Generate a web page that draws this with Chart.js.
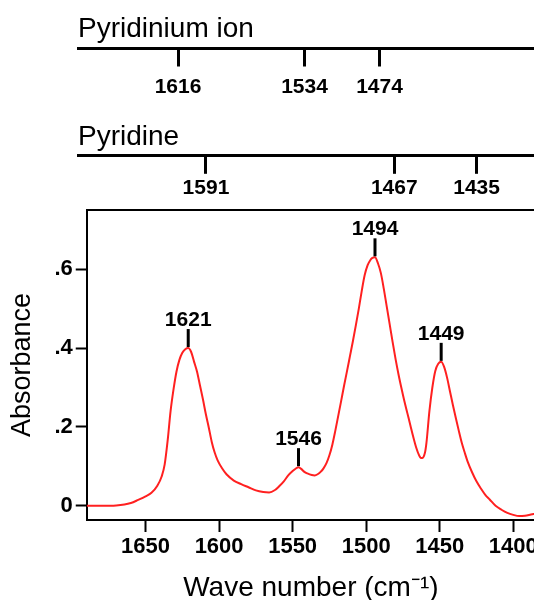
<!DOCTYPE html>
<html>
<head>
<meta charset="utf-8">
<script src="https://cdn.jsdelivr.net/npm/chart.js@4.4.0/dist/chart.umd.min.js"></script>
<style>
  html, body { margin: 0; padding: 0; background: #fff; overflow: hidden; width: 534px; height: 600px; }
  canvas { position: absolute; left: 0; }
  #ion { top: 0; }
  #pyr { top: 100px; }
  #main { top: 190px; }
</style>
</head>
<body>
<canvas id="ion" width="545" height="100"></canvas>
<canvas id="pyr" width="545" height="104"></canvas>
<canvas id="main" width="545" height="428"></canvas>
<script>
// IR spectrum
const waveNumbers = [1690, 1680, 1670, 1660, 1655, 1650, 1646, 1642, 1639, 1637, 1635, 1633, 1631, 1629, 1627,
  1625, 1623, 1621, 1619, 1617, 1615, 1613, 1611, 1609, 1607, 1605, 1603, 1601, 1598, 1595, 1590, 1585, 1580,
  1575, 1570, 1566, 1562, 1559, 1556, 1553, 1550, 1548, 1546, 1544, 1542, 1540, 1537, 1535, 1533, 1531, 1529,
  1527, 1525, 1523, 1521, 1519, 1517, 1515, 1513, 1511, 1509, 1507, 1505, 1503, 1501, 1499, 1497, 1496, 1494,
  1492, 1490, 1488, 1486, 1484, 1482, 1480, 1478, 1476, 1474, 1472, 1470, 1468, 1466, 1464, 1463, 1462, 1460,
  1459, 1457, 1455, 1453, 1451, 1449, 1447, 1445, 1443, 1441, 1439, 1437, 1435, 1433, 1431, 1428, 1425, 1422,
  1419, 1416, 1412, 1408, 1404, 1400, 1396, 1392, 1388, 1384];
const absorbance = [0, 0, 0.001, 0.007, 0.015, 0.024, 0.033, 0.051, 0.075, 0.105, 0.165, 0.24, 0.295, 0.34, 0.37,
  0.388, 0.397, 0.40, 0.39, 0.365, 0.34, 0.305, 0.27, 0.232, 0.198, 0.162, 0.135, 0.115, 0.095, 0.08, 0.064, 0.055, 0.047,
  0.039, 0.035, 0.034, 0.040, 0.050, 0.062, 0.077, 0.088, 0.094, 0.098, 0.093, 0.086, 0.082, 0.078, 0.077, 0.080, 0.086, 0.095,
  0.108, 0.128, 0.155, 0.19, 0.228, 0.266, 0.305, 0.342, 0.38, 0.418, 0.458, 0.50, 0.545, 0.585, 0.61, 0.624, 0.628, 0.63,
  0.615, 0.59, 0.55, 0.505, 0.46, 0.415, 0.372, 0.333, 0.298, 0.265, 0.235, 0.205, 0.175, 0.148, 0.128, 0.122, 0.121, 0.135,
  0.16, 0.24, 0.30, 0.342, 0.36, 0.365, 0.352, 0.325, 0.29, 0.255, 0.222, 0.19, 0.16, 0.135, 0.112, 0.085, 0.062, 0.044,
  0.028, 0.016, 0.0, -0.01, -0.018, -0.023, -0.026, -0.025, -0.022, -0.019];

const xTicks = [1650, 1600, 1550, 1500, 1450, 1400];
const yTicks = [0, 0.2, 0.4, 0.6];
const yTickLabels = ['0', '.2', '.4', '.6'];
const peaks = [1621, 1546, 1494, 1449];

// reference bands (label, place along the bar)
const ionBands = ['1616', '1534', '1474'];
const ionBandPos = [1628, 1542, 1491];
const pyrBands = ['1591', '1467', '1435'];
const pyrBandPos = [1609, 1481, 1425];

const FONT = "'Liberation Sans', Arial, Helvetica, sans-serif";
Chart.defaults.font.family = FONT;
Chart.defaults.color = '#000';

function bandChart(id, title, pos, labels, titlePad, tickPad, padBottom) {
    new Chart(document.getElementById(id), {
        type: 'line',
        data: { datasets: [] },
        options: {
            responsive: false,
            animation: false,
            devicePixelRatio: 1,
            layout: { padding: { left: 78, right: 0, top: 0, bottom: padBottom } },
            plugins: {
                legend: { display: false },
                tooltip: { enabled: false },
                title: {
                    display: true,
                    text: title,
                    align: 'start',
                    color: '#000',
                    font: { size: 28, weight: 'normal' },
                    padding: { top: titlePad, bottom: 0 }
                }
            },
            scales: {
                x: {
                    type: 'linear',
                    position: 'bottom',
                    reverse: true,
                    min: 1378.5,
                    max: 1696,
                    afterBuildTicks: s => { s.ticks = pos.map(v => ({ value: v })); },
                    ticks: {
                        autoSkip: false,
                        maxRotation: 0,
                        padding: tickPad,
                        color: '#000',
                        font: { size: 21, weight: 'bold' },
                        callback: (v, i) => labels[i]
                    },
                    grid: { drawOnChartArea: false, tickLength: 18, tickWidth: 3, color: '#000' },
                    border: { display: true, width: 3, color: '#000' }
                },
                y: { display: false }
            }
        }
    });
}

bandChart('ion', 'Pyridinium ion', ionBandPos, ionBands, 12, 8, 3);
bandChart('pyr', 'Pyridine', pyrBandPos, pyrBands, 20, 2, 1);

const peakMarks = {
    id: 'peakMarks',
    afterDatasetsDraw(chart) {
        const { ctx, scales: { x, y } } = chart;
        ctx.save();
        ctx.strokeStyle = '#000';
        ctx.fillStyle = '#000';
        ctx.lineWidth = 3;
        ctx.font = 'bold 21px ' + FONT;
        ctx.textAlign = 'center';
        ctx.textBaseline = 'alphabetic';
        peaks.forEach(p => {
            const a = absorbance[waveNumbers.indexOf(p)];
            const px = x.getPixelForValue(p);
            const py = y.getPixelForValue(a) - 1;
            ctx.beginPath();
            ctx.moveTo(px, py);
            ctx.lineTo(px, py - 18);
            ctx.stroke();
            ctx.fillText(String(p), px, py - 21);
        });
        ctx.restore();
    }
};

new Chart(document.getElementById('main'), {
    type: 'line',
    data: {
        datasets: [{
            data: waveNumbers.map((w, i) => ({ x: w, y: absorbance[i] })),
            borderColor: '#ff2020',
            borderWidth: 2,
            pointRadius: 0,
            cubicInterpolationMode: 'monotone'
        }]
    },
    options: {
        responsive: false,
        animation: false,
        devicePixelRatio: 1,
        layout: { padding: { left: 1, right: 10, top: 20, bottom: 0 } },
        plugins: { legend: { display: false }, tooltip: { enabled: false } },
        scales: {
            x: {
                type: 'linear',
                position: 'bottom',
                reverse: true,
                min: 1385.2,
                max: 1690,
                afterBuildTicks: s => { s.ticks = xTicks.map(v => ({ value: v })); },
                ticks: {
                    autoSkip: false,
                    maxRotation: 0,
                    padding: 2,
                    color: '#000',
                    font: { size: 22, weight: 'bold' },
                    callback: v => String(v)
                },
                grid: { drawOnChartArea: false, tickLength: 12, tickWidth: 2, color: '#000' },
                border: { display: true, width: 2, color: '#000' },
                title: {
                    display: true,
                    text: 'Wave number (cm\u207B\u00B9)',
                    color: '#000',
                    font: { size: 28, weight: 'normal' },
                    padding: { top: 9, bottom: 13 }
                }
            },
            x2: {
                type: 'linear',
                position: 'top',
                min: 0,
                max: 1,
                ticks: { display: false },
                grid: { display: false, drawTicks: false },
                border: { display: true, width: 2, color: '#000' }
            },
            y: {
                min: -0.036,
                max: 0.75,
                afterBuildTicks: s => { s.ticks = yTicks.map(v => ({ value: v })); },
                ticks: {
                    padding: 3,
                    color: '#000',
                    font: { size: 22, weight: 'bold' },
                    callback: (v, i) => yTickLabels[i]
                },
                grid: { drawOnChartArea: false, tickLength: 11, tickWidth: 2, color: '#000' },
                border: { display: true, width: 2, color: '#000' },
                title: {
                    display: true,
                    text: 'Absorbance',
                    color: '#000',
                    font: { size: 27, weight: 'normal' },
                    padding: { top: 5, bottom: 13 }
                }
            }
        }
    },
    plugins: [peakMarks]
});
</script>
</body>
</html>
